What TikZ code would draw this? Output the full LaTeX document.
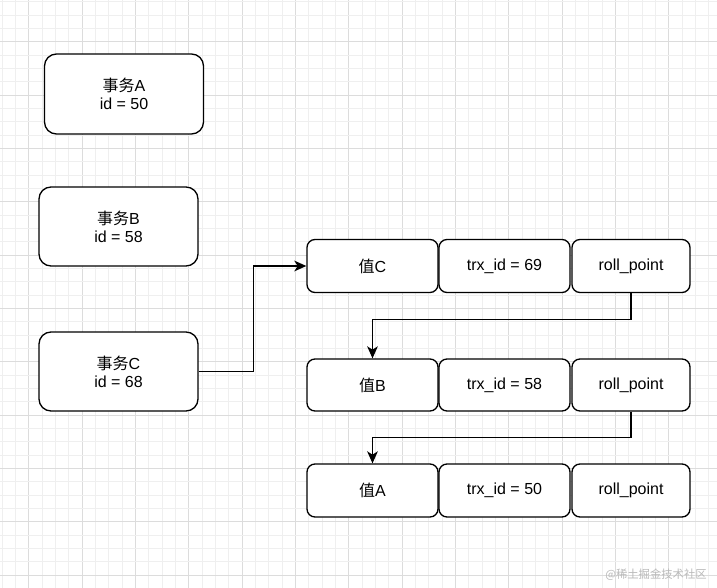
\documentclass[tikz,border=0pt]{standalone}
\usepackage{fontspec}
\setmainfont{Liberation Sans}
\newfontfamily\cjk{Noto Sans CJK SC}
\usetikzlibrary{arrows.meta}
\definecolor{gridminor}{HTML}{EFEFEF}
\definecolor{gridmajor}{HTML}{DCDCDC}
\begin{document}
\begin{tikzpicture}[x=0.75pt,y=-0.75pt,
  txbox/.style={draw=black,line width=1pt,rounded corners=9pt,fill=white,
    minimum width=159*0.75pt,minimum height=79*0.75pt,align=center,
    font=\fontsize{12}{13.5}\selectfont,inner sep=0pt},
  cell/.style={draw=black,line width=1pt,rounded corners=6pt,fill=white,
    minimum height=53*0.75pt,font=\fontsize{12}{14}\selectfont,inner sep=0pt},
  wide/.style={cell,minimum width=131*0.75pt},
  narrow/.style={cell,minimum width=118*0.75pt},
  link/.style={line width=1pt,-{Stealth[length=9pt,width=8pt,inset=2.5pt]}},
  ]
\useasboundingbox (0,0) rectangle (717,588);
\fill[white] (0,0) rectangle (717,588);
% grid
\foreach \i in {0,...,53}{
  \pgfmathsetmacro{\gx}{2.33+13.333*\i}
  \pgfmathtruncatemacro{\m}{mod(\i,4)}
  \ifnum\m=2
    \draw[gridmajor,line width=0.75pt] (\gx,0) -- (\gx,588);
  \else
    \draw[gridminor,line width=0.75pt] (\gx,0) -- (\gx,588);
  \fi
}
\foreach \i in {0,...,44}{
  \pgfmathsetmacro{\gy}{2+13.333*\i}
  \pgfmathtruncatemacro{\m}{mod(\i,4)}
  \ifnum\m=3
    \draw[gridmajor,line width=0.75pt] (0,\gy) -- (717,\gy);
  \else
    \draw[gridminor,line width=0.75pt] (0,\gy) -- (717,\gy);
  \fi
}
% transactions
\node[txbox,minimum height=80*0.75pt] (tA) at (124,94) {{\cjk 事务}A\\id = 50};
\node[txbox] (tB) at (118.5,226.5) {{\cjk 事务}B\\id = 58};
\node[txbox] (tC) at (118.5,371.5) {{\cjk 事务}C\\id = 68};
% version chain rows
\node[wide] (vC) at (372.5,266) {{\cjk 值}C};
\node[wide] (iC) at (504.5,266) {trx\_id = 69};
\node[narrow] (rC) at (631,266) {roll\_point};
\node[wide,minimum height=52*0.75pt] (vB) at (372.5,385) {{\cjk 值}B};
\node[wide,minimum height=52*0.75pt] (iB) at (504.5,385) {trx\_id = 58};
\node[narrow,minimum height=52*0.75pt] (rB) at (631,385) {roll\_point};
\node[wide] (vA) at (372.5,490.5) {{\cjk 值}A};
\node[wide] (iA) at (504.5,490.5) {trx\_id = 50};
\node[narrow] (rA) at (631,490.5) {roll\_point};
% connectors
\draw[link] (tC.east) -- ++(55,0) |- (vC.west);
\draw[link] (rC.south) -- ++(0,26) -| (vB.north);
\draw[link] (rB.south) -- ++(0,26) -| (vA.north);
% watermark
\node[anchor=east,text=gray!55,font=\cjk\fontsize{8.5}{10}\selectfont,inner sep=0pt] (wm) at (707,575) {@稀土掘金技术社区};
\end{tikzpicture}
\end{document}
